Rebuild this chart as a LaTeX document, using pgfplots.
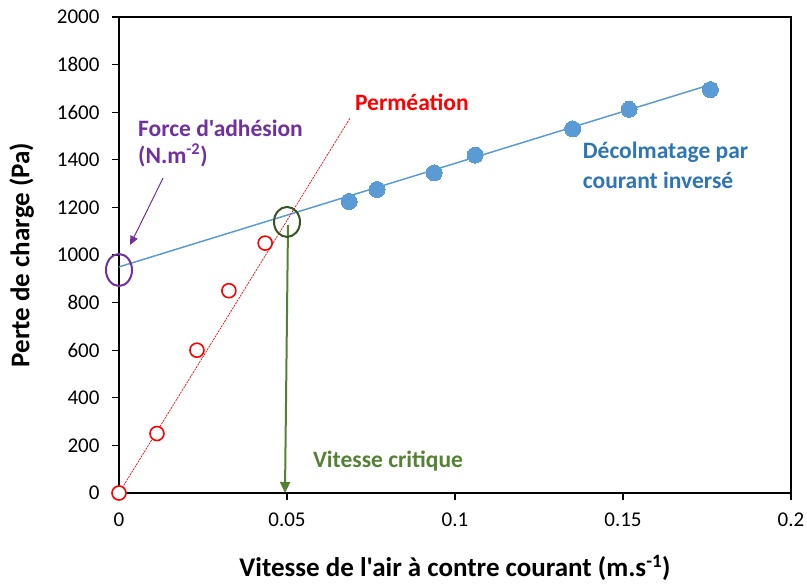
\documentclass[border=0pt]{standalone}
\usepackage{pgfplots}
\pgfplotsset{compat=1.18}
\usepackage{fontspec}
\setmainfont{Carlito}[Ligatures=TeXOff]
\usetikzlibrary{arrows.meta}
\definecolor{bluept}{HTML}{5B9BD5}
\definecolor{bluetxt}{HTML}{2E75B6}
\definecolor{purp}{HTML}{7030A0}
\definecolor{greentxt}{HTML}{548235}
\definecolor{greendark}{HTML}{375623}
\begin{document}
\begin{tikzpicture}
\begin{axis}[
  scale only axis, width=672pt, height=476pt,
  xmin=0, xmax=0.2, ymin=0, ymax=2000,
  axis lines=box,
  xtick={0,0.05,0.1,0.15,0.2},
  xticklabels={0,0.05,0.1,0.15,0.2},
  ytick={0,200,400,600,800,1000,1200,1400,1600,1800,2000},
  yticklabels={0,200,400,600,800,1000,1200,1400,1600,1800,2000},
  tick pos=left, tick align=outside, major tick length=7pt,
  tick style={black, line width=1.2pt},
  axis line style={black, line width=1.3pt},
  ticklabel style={font=\fontsize{21}{25}\selectfont},
  xticklabel style={yshift=-9pt},
  yticklabel style={xshift=-9pt},
  xlabel={\textbf{Vitesse de l'air à contre courant (m.s\textsuperscript{-1})}},
  ylabel={\textbf{Perte de charge (Pa)}},
  label style={font=\fontsize{27}{31}\selectfont},
  xlabel style={at={(axis description cs:0.5,-0.1576)}, anchor=center},
  ylabel style={at={(axis description cs:-0.145,0.5)}, anchor=center},
  clip=false,
]
\draw[black, line width=1.5pt] (rel axis cs:0,1) -- (rel axis cs:1,1) -- (rel axis cs:1,0);
% trend lines
\addplot[bluept, line width=1.5pt, no marks] coordinates {(0,950) (0.177,1720)};
\addplot[red, line width=0.7pt, dashed, dash pattern=on 2pt off 1pt, no marks] coordinates {(0,0) (0.0688,1576)};
% data
\addplot[only marks, mark=*, mark size=7pt, mark options={draw=red, fill=white, line width=1.6pt}]
  coordinates {(0,0) (0.0113,250) (0.0232,600) (0.0327,850) (0.0435,1050)};
\addplot[only marks, mark=*, mark size=8pt, mark options={draw=bluept, fill=bluept, line width=0pt}]
  coordinates {(0.0685,1225) (0.0768,1275) (0.0938,1345) (0.106,1420) (0.135,1530) (0.1518,1612) (0.176,1695)};
% annotations
\draw[purp, line width=2pt] (axis cs:0,937) ellipse [x radius=13pt, y radius=16pt];
\draw[purp, line width=1pt, -{Triangle[length=9pt,width=8pt]}] (axis cs:0.0131,1323) -- (axis cs:0.0033,1042);
\node[purp, anchor=west, font=\fontsize{23.5}{27}\selectfont\bfseries, inner sep=0pt] at (axis cs:0.00565,1534) {Force d'adhésion};
\node[purp, anchor=west, font=\fontsize{23.5}{27}\selectfont\bfseries, inner sep=0pt] at (axis cs:0.00565,1418) {(N.m\textsuperscript{-2})};
\draw[greentxt, line width=2pt, -{Triangle[length=11pt,width=10pt]}] (axis cs:0.0503,1126) -- (axis cs:0.0494,0);
\draw[greendark, line width=2pt] (axis cs:0.05,1139) ellipse [x radius=13pt, y radius=15pt];
\node[greentxt, anchor=west, font=\fontsize{23.5}{27}\selectfont\bfseries, inner sep=0pt] at (axis cs:0.0577,134) {Vitesse critique};
\node[red, anchor=west, font=\fontsize{23.5}{27}\selectfont\bfseries, inner sep=0pt] at (axis cs:0.0702,1643) {Perméation};
\node[bluetxt, anchor=west, font=\fontsize{23.5}{27}\selectfont\bfseries, inner sep=0pt] at (axis cs:0.138,1433) {Décolmatage par};
\node[bluetxt, anchor=west, font=\fontsize{23.5}{27}\selectfont\bfseries, inner sep=0pt] at (axis cs:0.138,1315) {courant inversé};
\end{axis}
\pgfresetboundingbox
\path ([shift={(-119pt,-91pt)}]current axis.south west) rectangle ([shift={(16pt,17pt)}]current axis.north east);
\end{tikzpicture}
\end{document}
